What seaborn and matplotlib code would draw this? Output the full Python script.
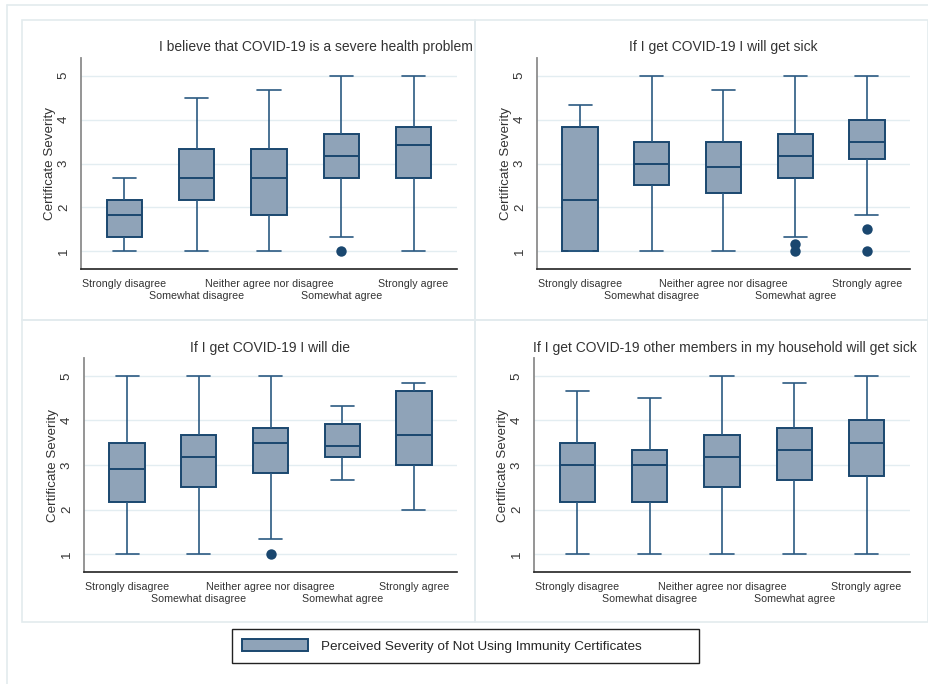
import pandas as pd
import seaborn as sns
import matplotlib.pyplot as plt
from matplotlib.patches import Rectangle, Patch
from matplotlib.lines import Line2D

categories = ["Strongly disagree", "Somewhat disagree", "Neither agree nor disagree",
              "Somewhat agree", "Strongly agree"]

titles = ["I believe that COVID-19 is a severe health problem",
          "If I get COVID-19 I will get sick",
          "If I get COVID-19 I will die",
          "If I get COVID-19 other members in my household will get sick"]

# five-number summaries: lower whisker, q1, median, q3, upper whisker
health = [[1, 1.33, 1.83, 2.17, 2.67],
          [1, 2.17, 2.67, 3.33, 4.5],
          [1, 1.83, 2.67, 3.33, 4.67],
          [1.33, 2.67, 3.17, 3.67, 5],
          [1, 2.67, 3.42, 3.83, 5]]
sick = [[1, 1, 2.17, 3.83, 4.33],
        [1, 2.5, 3, 3.5, 5],
        [1, 2.33, 2.92, 3.5, 4.67],
        [1.33, 2.67, 3.17, 3.67, 5],
        [1.83, 3.1, 3.5, 4, 5]]
die = [[1, 2.17, 2.92, 3.5, 5],
       [1, 2.5, 3.17, 3.67, 5],
       [1.33, 2.83, 3.5, 3.83, 5],
       [2.67, 3.17, 3.42, 3.92, 4.33],
       [2, 3, 3.67, 4.67, 4.83]]
household = [[1, 2.17, 3, 3.5, 4.67],
             [1, 2.17, 3, 3.33, 4.5],
             [1, 2.5, 3.17, 3.67, 5],
             [1, 2.67, 3.33, 3.83, 4.83],
             [1, 2.75, 3.5, 4, 5]]

# outside values
health_out = [("Somewhat agree", 1.0)]
sick_out = [("Somewhat agree", 1.17), ("Somewhat agree", 1.0),
            ("Strongly agree", 1.5), ("Strongly agree", 1.0)]
die_out = [("Neither agree nor disagree", 1.0)]
household_out = []

legend_label = "Perceived Severity of Not Using Immunity Certificates"

sns.set_style("white")
plt.rcParams['font.family'] = ['Liberation Sans', 'DejaVu Sans']

navy = "#1a476f"
fill = "#8fa3b8"
txt = "#333333"

W, H = 929, 684
fig = plt.figure(figsize=(W / 100, H / 100), dpi=100)

def px_rect(l, t, r, b):
    return [l / W, 1 - b / H, (r - l) / W, (b - t) / H]

axes_px = [(81, 58, 457, 269), (537, 58, 910, 269),
           (84, 358, 457, 572), (534, 358, 910, 572)]
title_px = [(316, 47), (723, 47), (270, 348), (725, 348)]
panel_px = [(22, 20, 475, 320), (475, 20, 928, 320),
            (22, 320, 475, 622), (475, 320, 928, 622)]

# panel frames
for (l, t, r, b) in panel_px:
    fig.patches.append(Rectangle((l / W, 1 - b / H), (r - l) / W, (b - t) / H,
                                 transform=fig.transFigure, fill=False,
                                 edgecolor="#e3ebee", lw=1.2))
fig.lines.append(Line2D([7 / W, 7 / W], [0, 1 - 5 / H], transform=fig.transFigure,
                        color="#e3ebee", lw=1.2))
fig.lines.append(Line2D([7 / W, 1], [1 - 5 / H, 1 - 5 / H], transform=fig.transFigure,
                        color="#e3ebee", lw=1.2))

panels = [(health, health_out), (sick, sick_out), (die, die_out), (household, household_out)]

for i, (summ, outs) in enumerate(panels):
    ax = fig.add_axes(px_rect(*axes_px[i]))
    rows = []
    for cat, vals in zip(categories, summ):
        for v in vals:
            rows.append({"resp": cat, "value": v})
    df = pd.DataFrame(rows)
    sns.boxplot(data=df, x="resp", y="value", order=categories, whis=(0, 100),
                width=0.49, color=fill, saturation=1, linecolor=navy, ax=ax,
                boxprops=dict(linewidth=1.4, edgecolor=navy),
                medianprops=dict(linewidth=1.4, color=navy),
                whiskerprops=dict(linewidth=1.2, color="#2b5a82"),
                capprops=dict(linewidth=1.2, color="#2b5a82"),
                capwidths=0.32)
    if outs:
        odf = pd.DataFrame(outs, columns=["resp", "value"])
        sns.stripplot(data=odf, x="resp", y="value", order=categories, jitter=False,
                      color=navy, size=7.5, ax=ax, zorder=5)
    ax.set_xlim(-0.6, 4.6)
    ax.set_ylim(0.6, 5.4)
    ax.set_yticks([1, 2, 3, 4, 5])
    # staggered labels: even categories on the top row, odd ones one row lower
    ax.set_xticks([0, 2, 4], [categories[0], categories[2], categories[4]],
                  fontsize=7.7, color=txt)
    ax.set_xticks([1, 3], [categories[1], categories[3]], minor=True,
                  fontsize=7.7, color=txt)
    ax.tick_params(axis="x", which="major", length=0, pad=7)
    ax.tick_params(axis="x", which="minor", length=0, pad=15.6)
    ax.tick_params(axis="y", length=4, width=1.1, color="#333333", labelsize=9.5,
                   labelrotation=90, pad=4, labelcolor=txt)
    for lab in ax.get_yticklabels():
        lab.set_va("center")
    ax.yaxis.grid(True, color="#e3edf1", lw=1)
    ax.set_axisbelow(True)
    ax.set_xlabel("")
    ax.set_ylabel("Certificate Severity", fontsize=9.6, color=txt, labelpad=1)
    for s in ["top", "right"]:
        ax.spines[s].set_visible(False)
    ax.spines["left"].set_color("#8c8c8c")
    ax.spines["left"].set_linewidth(1.3)
    ax.spines["bottom"].set_color("#222222")
    ax.spines["bottom"].set_linewidth(1.2)
    tx, ty = title_px[i]
    fig.text(tx / W, 1 - ty / H, titles[i], ha="center", va="center",
             fontsize=10, color=txt)

# legend
fig.patches.append(Rectangle((232 / W, 1 - 663 / H), (699 - 232) / W, 34 / H,
                             transform=fig.transFigure, fill=False,
                             edgecolor="#222222", lw=1.0))
handle = Patch(facecolor=fill, edgecolor=navy, linewidth=1.4)
fig.legend([handle], [legend_label], loc="center left",
           bbox_to_anchor=(233 / W, 1 - 646 / H), frameon=False, fontsize=9.7,
           handlelength=4.9, handleheight=0.9, handletextpad=0.95, borderpad=0.2)

fig.savefig("out.png", dpi=100)
